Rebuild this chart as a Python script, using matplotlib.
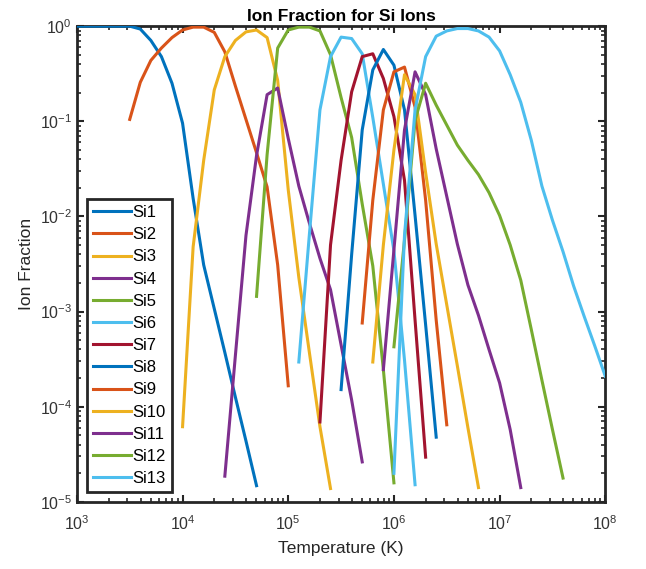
import numpy as np
import matplotlib
matplotlib.use('Agg')
from matplotlib import pyplot as plt

plt.rcParams['font.family'] = ['Liberation Sans', 'DejaVu Sans']
plt.rcParams['mathtext.default'] = 'regular'

# log10(T) of the first point of every ion, data step is 0.1 dex
log_temp_start = [3.0, 3.5, 4.0, 4.4, 4.7, 5.1, 5.3, 5.5, 5.7, 5.8, 5.9, 6.0, 6.0]
log_temp_step = 0.1

# log10 of the ion fraction
si1 = [0, 0, 0, 0, 0, 0, -0.03, -0.15, -0.32, -0.60, -1.02, -1.81, -2.51,
       -2.97, -3.43, -3.90, -4.36, -4.83]
si2 = [-0.98, -0.59, -0.36, -0.23, -0.12, -0.04, -0.01, -0.01, -0.065, -0.27,
       -0.63, -0.98, -1.33, -1.69, -2.51, -3.78]
si3 = [-4.21, -2.32, -1.41, -0.67, -0.32, -0.15, -0.06, -0.04, -0.12, -0.57,
       -1.72, -2.64, -3.43, -4.21, -4.86]
si4 = [-4.73, -3.46, -2.20, -1.36, -0.72, -0.65, -1.18, -1.68, -2.07, -2.44,
       -2.77, -3.35, -3.93, -4.58]
si5 = [-2.84, -1.35, -0.23, -0.04, -0.01, -0.01, -0.05, -0.30, -0.75, -1.17,
       -1.87, -2.52, -3.61, -4.80]
si6 = [-3.53, -2.19, -0.88, -0.32, -0.115, -0.13, -0.29, -0.96, -1.66, -2.36,
       -3.51, -4.82]
si7 = [-4.16, -2.30, -1.41, -0.69, -0.32, -0.29, -0.55, -0.95, -1.62, -3.09,
       -4.53]
si8 = [-3.82, -2.40, -1.09, -0.46, -0.245, -0.41, -0.88, -1.99, -3.14, -4.32]
si9 = [-3.12, -1.83, -0.88, -0.48, -0.43, -0.85, -1.83, -3.09, -4.19]
si10 = [-3.53, -2.30, -1.30, -0.51, -0.72, -1.54, -2.29, -2.93, -3.57, -4.22,
        -4.85]
si11 = [-3.61, -2.35, -1.09, -0.48, -0.72, -1.29, -1.79, -2.29, -2.72, -3.04,
        -3.40, -3.75, -4.24, -4.85]
si12 = [-3.37, -2.25, -0.99, -0.60, -0.83, -1.04, -1.25, -1.41, -1.56, -1.75,
        -1.99, -2.30, -2.67, -3.19, -3.72, -4.24, -4.75]
si13 = [-4.70, -2.20, -0.88, -0.32, -0.105, -0.05, -0.025, -0.025, -0.05,
        -0.115, -0.26, -0.51, -0.80, -1.20, -1.68, -2.04, -2.37, -2.73, -3.05,
        -3.36, -3.68]

ions = [si1, si2, si3, si4, si5, si6, si7, si8, si9, si10, si11, si12, si13]
labels = ['Si%d' % (i + 1) for i in range(len(ions))]

colors = ['#0072BD', '#D95319', '#EDB120', '#7E2F8E', '#77AC30', '#4DBEEE',
          '#A2142F']

fig = plt.figure(figsize=(6.46, 5.69), dpi=100, facecolor='white')
ax = fig.add_axes([0.119, 0.118, 0.818, 0.836])

for i, vals in enumerate(ions):
    logT = log_temp_start[i] + log_temp_step * np.arange(len(vals))
    ax.plot(10 ** logT, 10 ** np.array(vals), color=colors[i % 7],
            linewidth=2.2, label=labels[i], zorder=3)

ax.set_xscale('log')
ax.set_yscale('log')
ax.set_xlim(1e3, 1e8)
ax.set_ylim(1e-5, 1)

for s in ax.spines.values():
    s.set_linewidth(2.0)
    s.set_color('#262626')
ax.tick_params(which='both', direction='in', top=True, right=True,
               colors='#262626', labelsize=11.5)
ax.tick_params(which='major', length=5, width=1.5)
ax.tick_params(which='minor', length=3, width=1.2)
ax.tick_params(axis='x', which='major', pad=9)
for lab in ax.get_xticklabels() + ax.get_yticklabels():
    lab.set_color('#333333')

ax.set_title('Ion Fraction for Si Ions', fontsize=12.5, fontweight='bold',
             pad=4)
ax.set_xlabel('Temperature (K)', fontsize=12.5, color='#262626', labelpad=6)
ax.set_ylabel('Ion Fraction', fontsize=12.5, color='#262626')

leg = ax.legend(loc='lower left', fontsize=12, fancybox=False,
                framealpha=1, edgecolor='#262626', handlelength=2.3,
                handletextpad=0.1, labelspacing=0.43, borderpad=0.35,
                borderaxespad=0.6)
leg.get_frame().set_linewidth(2.0)
leg.set_zorder(5)

fig.savefig('out.png', dpi=100)
